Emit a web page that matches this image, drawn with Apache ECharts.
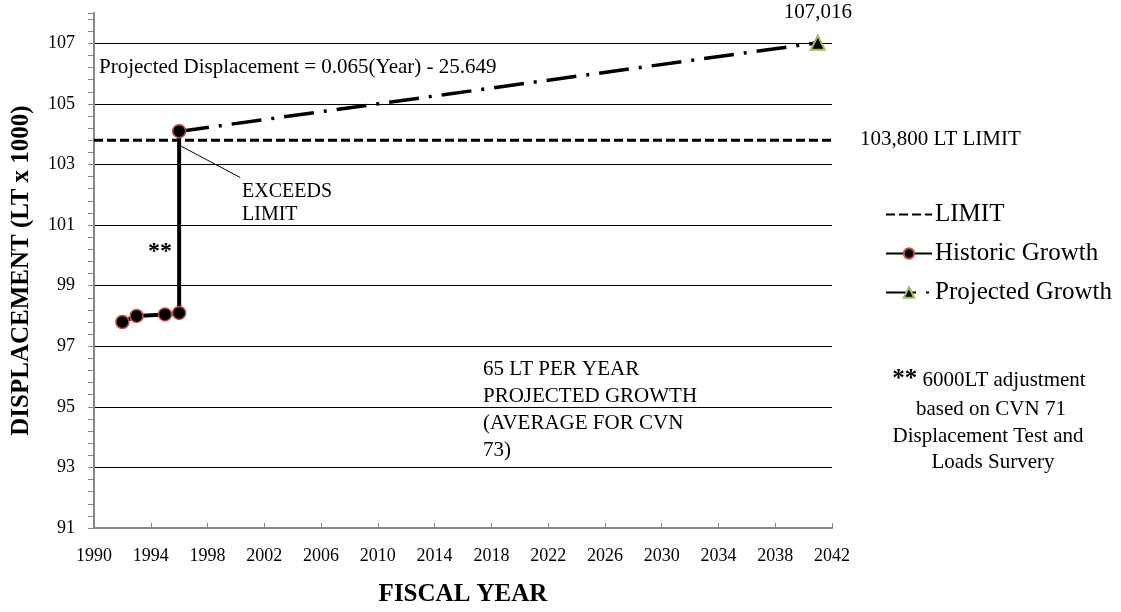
<!DOCTYPE html>
<html><head><meta charset="utf-8">
<script src="https://cdn.jsdelivr.net/npm/echarts@6/dist/echarts.min.js"></script>
<style>html,body{margin:0;padding:0;background:#fff}#c{width:1121px;height:612px}</style>
</head><body><div id="c"></div>
<script>
var historicYears = [1992, 1993, 1995, 1996, 1996];
var historicValues = [97.8, 98.0, 98.05, 98.1, 104.1];
var projectedYears = [1996, 2041];
var projectedValues = [104.091, 107.016];
var limitYears = [1990, 2042];
var limitValues = [103.8, 103.8];
var yTicks = {min: 91, max: 108, interval: 2};
var xTicks = {min: 1990, max: 2042, interval: 4};

var F = '"Liberation Serif","Times New Roman",serif';
function pairs(xs, ys){ return xs.map(function(x,i){return [x, ys[i]];}); }

var chart = echarts.init(document.getElementById('c'));
chart.setOption({
  animation: false,
  backgroundColor: '#fff',
  textStyle: {fontFamily: F, color: '#000'},
  grid: {left: 94, top: 13, right: 289, bottom: 81, containLabel: false},
  xAxis: {
    type: 'value', min: xTicks.min, max: xTicks.max, interval: xTicks.interval,
    name: 'FISCAL YEAR', nameLocation: 'middle', nameGap: 54,
    nameTextStyle: {fontFamily: F, fontSize: 25, fontWeight: 'bold', color: '#000'},
    axisLine: {lineStyle: {color: '#868686', width: 2}},
    axisTick: {inside: true, length: 5, lineStyle: {color: '#868686'}},
    axisLabel: {fontFamily: F, fontSize: 18, color: '#000', margin: 19, formatter: function(v){ return String(v); }},
    splitLine: {show: false}
  },
  yAxis: {
    type: 'value', min: yTicks.min, max: yTicks.max, interval: yTicks.interval,
    name: 'DISPLACEMENT (LT x 1000)', nameLocation: 'middle', nameGap: 60, nameRotate: 90,
    nameTextStyle: {fontFamily: F, fontSize: 25, fontWeight: 'bold', color: '#000'},
    axisLine: {show: true, lineStyle: {color: '#868686', width: 2}},
    axisTick: {show: true, length: 6, lineStyle: {color: '#868686'}},
    minorTick: {show: true, splitNumber: 5, length: 6, lineStyle: {color: '#868686'}},
    axisLabel: {fontFamily: F, fontSize: 18, color: '#000', margin: 19, showMaxLabel: false},
    splitLine: {show: true, showMaxLine: false, lineStyle: {color: '#000', width: 1}}
  },
  legend: {
    orient: 'vertical', left: 880, top: 197, itemGap: 14, itemWidth: 46, itemHeight: 13,
    textStyle: {fontFamily: F, fontSize: 25, color: '#000', padding: [0,0,0,-2]},
    data: [
      {name: 'LIMIT', itemStyle: {opacity: 0}},
      {name: 'Historic Growth'},
      {name: 'Projected Growth'}
    ]
  },
  series: [
    {
      name: 'LIMIT', type: 'line', data: pairs(limitYears, limitValues),
      showSymbol: false, symbol: 'none',
      lineStyle: {color: '#000', width: 3, type: [9, 4]}, itemStyle: {color: '#000'},
      z: 3
    },
    {
      name: 'Projected Growth', type: 'line',
      data: pairs(projectedYears, projectedValues).map(function(p, i){
        return i === projectedYears.length - 1 ? {value: p, symbol: 'triangle', symbolSize: 14,
          label: {show: true, position: 'top', distance: 12, formatter: '107,016', fontFamily: F, fontSize: 21, color: '#000'}}
          : {value: p, symbol: 'none'};
      }),
      symbol: 'triangle', symbolSize: 14,
      lineStyle: {color: '#000', width: 3.5, type: [30, 10, 3, 10]},
      itemStyle: {color: '#000', borderColor: '#9bbb59', borderWidth: 2},
      z: 4
    },
    {
      name: 'Historic Growth', type: 'line', data: pairs(historicYears, historicValues),
      symbol: 'circle', symbolSize: 13, showAllSymbol: true,
      lineStyle: {color: '#000', width: 4},
      itemStyle: {color: '#000', borderColor: '#c0504d', borderWidth: 1.5},
      z: 5,
      markLine: {
        silent: true, symbol: ['none', 'arrow'], symbolSize: [0, 9],
        lineStyle: {color: '#000', width: 1, type: 'solid'},
        label: {show: false},
        data: [[{coord: [2000.3, 102.57]}, {coord: [1996.15, 103.6]}]]
      }
    }
  ],
  graphic: [
    {type: 'text', x: 99, y: 67, style: {text: 'Projected Displacement = 0.065(Year) - 25.649', font: '21px ' + F, fill: '#000', verticalAlign: 'middle'}},
    {type: 'text', x: 860, y: 139, style: {text: '103,800 LT LIMIT', font: '21px ' + F, fill: '#000', verticalAlign: 'middle'}},
    {type: 'text', x: 242, y: 180, style: {text: 'EXCEEDS\nLIMIT', font: '20px ' + F, fill: '#000', lineHeight: 23, verticalAlign: 'top'}},
    {type: 'text', x: 148, y: 252, style: {text: '**', font: 'bold 24px ' + F, fill: '#000', verticalAlign: 'middle'}},
    {type: 'text', x: 483, y: 356, style: {text: '65 LT PER YEAR\nPROJECTED GROWTH\n(AVERAGE FOR CVN\n73)', font: '21px ' + F, fill: '#000', lineHeight: 27, verticalAlign: 'top'}},
    {type: 'text', x: 989, y: 380, style: {text: '{b|**} 6000LT adjustment', font: '21px ' + F, fill: '#000', align: 'center', verticalAlign: 'middle', rich: {b: {fontFamily: F, fontSize: 25, fontWeight: 'bold'}}}},
    {type: 'text', x: 991, y: 409, style: {text: 'based on CVN 71', font: '21px ' + F, fill: '#000', align: 'center', verticalAlign: 'middle'}},
    {type: 'text', x: 988, y: 436, style: {text: 'Displacement Test and', font: '21px ' + F, fill: '#000', align: 'center', verticalAlign: 'middle'}},
    {type: 'text', x: 993, y: 462, style: {text: 'Loads Survery', font: '21px ' + F, fill: '#000', align: 'center', verticalAlign: 'middle'}}
  ]
});
</script></body></html>
